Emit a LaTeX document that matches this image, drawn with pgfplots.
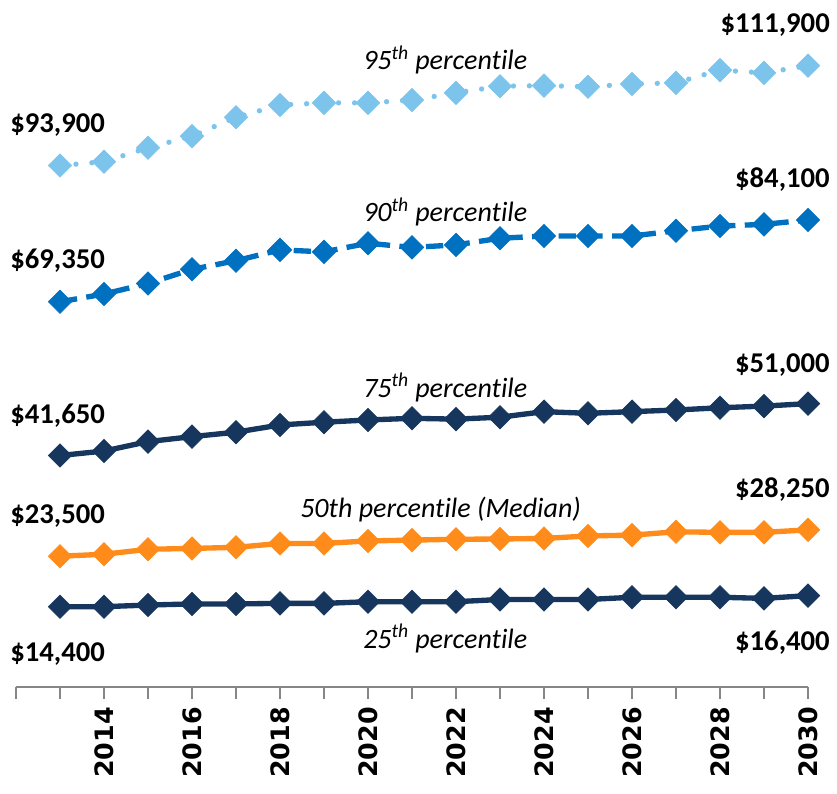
\documentclass[border=0pt]{standalone}
\usepackage{fontspec}
\setmainfont[Ligatures=NoCommon, RawFeature={-calt;-clig;-dlig}]{Carlito}
\newfontfamily\dv{DejaVu Sans}
\usepackage{pgfplots}
\pgfplotsset{compat=1.18}
\definecolor{c95}{RGB}{124,196,236}
\definecolor{c90}{RGB}{0,112,192}
\definecolor{navy}{RGB}{23,54,93}
\definecolor{orng}{RGB}{255,140,26}
\definecolor{axgray}{RGB}{134,134,134}
\newcommand\pct{percent\kern0pt ile}
\begin{document}
\begin{tikzpicture}
\begin{scope}[x=0.75pt,y=-0.75pt,shift={(-16,-686.6)}]
\path[use as bounding box] (0,0) rectangle (837,793);
\begin{scope}[font=\bfseries\fontsize{21.5}{21.5}\selectfont, inner sep=0pt]
\node[anchor=base east] at (830,33) {\$111,900};
\node[anchor=base west] at (10,133) {\$93,900};
\node[anchor=base east] at (830,188) {\$84,100};
\node[anchor=base west] at (10,269) {\$69,350};
\node[anchor=base east] at (830,372) {\$51,000};
\node[anchor=base west] at (10,423) {\$41,650};
\node[anchor=base east] at (830,497) {\$28,250};
\node[anchor=base west] at (10,523) {\$23,500};
\node[anchor=base east] at (830,650) {\$16,400};
\node[anchor=base west] at (10,661) {\$14,400};
\end{scope}
\begin{scope}[font=\itshape\fontsize{21}{21}\selectfont, inner sep=0pt]
\node[anchor=base west] at (363,70) {95\textsuperscript{th} \pct};
\node[anchor=base west] at (363,222) {90\textsuperscript{th} \pct};
\node[anchor=base west] at (363,397) {75\textsuperscript{th} \pct};
\node[anchor=base west] at (300,517) {50th \pct{} (Median)};
\node[anchor=base west] at (363,648) {25\textsuperscript{th} \pct};
\end{scope}
\end{scope}
\begin{axis}[
  at={(0,0)}, anchor=south west, scale only axis,
  width=594pt, height=499.4pt,
  xmin=2012, xmax=2030, ymin=0, ymax=120000,
  clip=false,
  axis x line*=bottom, axis y line=none,
  x axis line style={draw=axgray, line width=1.5pt},
  xtick={2012,...,2030},
  xticklabels={,,2014,,2016,,2018,,2020,,2022,,2024,,2026,,2028,,2030},
  tick align=outside, xtick pos=bottom,
  major tick length=9pt,
  tick style={draw=axgray, line width=1.2pt},
  xticklabel shift=3pt,
  x tick label style={rotate=90, anchor=east, font=\dv\bfseries\fontsize{19}{19}\selectfont},
  every axis plot/.append style={mark=square*, mark size=6.2pt},
]
\addplot[c95, line width=4pt, line cap=round, dash pattern=on 0pt off 12pt,
  mark options={solid, rotate=45, fill=c95, draw=c95, line width=0.5pt}] coordinates {
(2013,93900)(2014,94600)(2015,97100)(2016,99200)(2017,102600)(2018,104800)
(2019,105200)(2020,105200)(2021,105700)(2022,107000)(2023,108200)(2024,108300)
(2025,108100)(2026,108600)(2027,108800)(2028,111100)(2029,110600)(2030,111900)};
\addplot[c90, line width=4pt, dash pattern=on 13pt off 7pt,
  mark options={solid, rotate=45, fill=c90, draw=c90, line width=0.5pt}] coordinates {
(2013,69350)(2014,70750)(2015,72650)(2016,75200)(2017,76750)(2018,78700)
(2019,78350)(2020,79900)(2021,79150)(2022,79600)(2023,80800)(2024,81200)
(2025,81200)(2026,81200)(2027,82150)(2028,83000)(2029,83300)(2030,84100)};
\addplot[navy, line width=4pt,
  mark options={solid, rotate=45, fill=navy, draw=navy, line width=0.5pt}] coordinates {
(2013,41650)(2014,42450)(2015,44150)(2016,45050)(2017,45850)(2018,47150)
(2019,47650)(2020,48050)(2021,48350)(2022,48200)(2023,48550)(2024,49550)
(2025,49250)(2026,49550)(2027,49850)(2028,50250)(2029,50550)(2030,51000)};
\addplot[orng, line width=4pt,
  mark options={solid, rotate=45, fill=orng, draw=orng, line width=0.5pt}] coordinates {
(2013,23500)(2014,23850)(2015,24750)(2016,24900)(2017,25100)(2018,25800)
(2019,25800)(2020,26250)(2021,26400)(2022,26550)(2023,26600)(2024,26700)
(2025,27150)(2026,27300)(2027,27900)(2028,27800)(2029,27800)(2030,28250)};
\addplot[navy, line width=4pt,
  mark options={solid, rotate=45, fill=navy, draw=navy, line width=0.5pt}] coordinates {
(2013,14400)(2014,14400)(2015,14700)(2016,14900)(2017,14900)(2018,15000)
(2019,15000)(2020,15300)(2021,15300)(2022,15300)(2023,15700)(2024,15700)
(2025,15700)(2026,16100)(2027,16100)(2028,16100)(2029,15900)(2030,16400)};
\end{axis}
\end{tikzpicture}
\end{document}
